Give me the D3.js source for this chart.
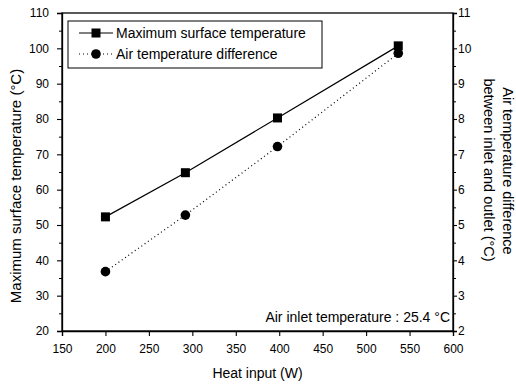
<!DOCTYPE html>
<html>
<head>
<meta charset="utf-8">
<script src="https://cdn.jsdelivr.net/npm/d3@7"></script>
<style>
  body { margin: 0; background: #fff; }
  text { font-family: "Liberation Sans", Arial, sans-serif; fill: #000; }
</style>
</head>
<body>
<svg id="chart" width="516" height="385"></svg>
<script>
const heatInput = [200, 292, 398, 537];
const maxSurfaceTemp = [52.3, 64.8, 80.3, 100.7];
const airTempDiff = [3.68, 5.28, 7.22, 9.86];
const xTicks = [150, 200, 250, 300, 350, 400, 450, 500, 550, 600];
const yLeftTicks = [20, 30, 40, 50, 60, 70, 80, 90, 100, 110];
const yRightTicks = [2, 3, 4, 5, 6, 7, 8, 9, 10, 11];
const seriesNames = ["Maximum surface temperature", "Air temperature difference"];

const svg = d3.select("#chart");
const L = 62, R = 453, T = 13, B = 331;

const x = d3.scaleLinear().domain([150, 600]).range([L, R]);
const yL = d3.scaleLinear().domain([20, 110]).range([B, T]);
const yR = d3.scaleLinear().domain([2, 11]).range([B, T]);

// frame
svg.append("rect").attr("x", L).attr("y", T).attr("width", R - L).attr("height", B - T)
  .attr("fill", "none").attr("stroke", "#000").attr("stroke-width", 1.3);

// axes
const fs = "12px";
const xAxis = svg.append("g").attr("transform", `translate(0,${B})`)
  .call(d3.axisBottom(x).tickValues(xTicks).tickSize(5).tickPadding(8));
const yLAxis = svg.append("g").attr("transform", `translate(${L},0)`)
  .call(d3.axisLeft(yL).tickValues(yLeftTicks).tickSize(5).tickPadding(8));
const yRAxis = svg.append("g").attr("transform", `translate(${R},0)`)
  .call(d3.axisRight(yR).tickValues(yRightTicks).tickSize(4).tickPadding(1));
[xAxis, yLAxis, yRAxis].forEach(g => {
  g.select(".domain").attr("stroke-width", 1.3);
  g.selectAll(".tick line").attr("stroke-width", 1.1);
  g.selectAll(".tick text").style("font-size", fs).attr("font-family", "Liberation Sans, Arial, sans-serif");
});

// minor ticks
const minorL = d3.range(25, 110, 10);
svg.append("g").attr("transform", `translate(${L},0)`)
  .call(d3.axisLeft(yL).tickValues(minorL).tickSize(3).tickFormat(""))
  .call(g => g.select(".domain").remove());
const minorR = d3.range(2.5, 11, 1);
svg.append("g").attr("transform", `translate(${R},0)`)
  .call(d3.axisRight(yR).tickValues(minorR).tickSize(3).tickFormat(""))
  .call(g => g.select(".domain").remove());

// lines
const data = heatInput.map((h, i) => ({h, t: maxSurfaceTemp[i], d: airTempDiff[i]}));
svg.append("path").datum(data)
  .attr("d", d3.line().x(p => x(p.h)).y(p => yL(p.t)))
  .attr("fill", "none").attr("stroke", "#000").attr("stroke-width", 1.2);
svg.append("path").datum(data)
  .attr("d", d3.line().x(p => x(p.h)).y(p => yR(p.d)))
  .attr("fill", "none").attr("stroke", "#000").attr("stroke-width", 1.2)
  .attr("stroke-dasharray", "1,3");

const sq = 9;
svg.selectAll(".sq").data(data).enter().append("rect")
  .attr("x", p => x(p.h) - sq / 2).attr("y", p => yL(p.t) - sq / 2)
  .attr("width", sq).attr("height", sq).attr("fill", "#000");
svg.selectAll(".ci").data(data).enter().append("circle")
  .attr("cx", p => x(p.h)).attr("cy", p => yR(p.d)).attr("r", 4.8).attr("fill", "#000");

// legend
const lg = svg.append("g");
lg.append("rect").attr("x", 68).attr("y", 21).attr("width", 254).attr("height", 47)
  .attr("fill", "#fff").attr("stroke", "#000").attr("stroke-width", 1);
const ly = [33, 54];
lg.append("line").attr("x1", 79).attr("x2", 113).attr("y1", ly[0]).attr("y2", ly[0])
  .attr("stroke", "#000").attr("stroke-width", 1.2);
lg.append("rect").attr("x", 96 - sq / 2).attr("y", ly[0] - sq / 2).attr("width", sq).attr("height", sq).attr("fill", "#000");
lg.append("line").attr("x1", 79).attr("x2", 113).attr("y1", ly[1]).attr("y2", ly[1])
  .attr("stroke", "#000").attr("stroke-width", 1.2).attr("stroke-dasharray", "1,3");
lg.append("circle").attr("cx", 96).attr("cy", ly[1]).attr("r", 4.8).attr("fill", "#000");
seriesNames.forEach((n, i) => {
  lg.append("text").attr("x", 116).attr("y", ly[i] + 5).style("font-size", "14px").text(n);
});

// annotation
svg.append("text").attr("x", 450).attr("y", 322).attr("text-anchor", "end")
  .style("font-size", "14px").text("Air inlet temperature : 25.4 °C");

// axis titles
svg.append("text").attr("x", (L + R) / 2).attr("y", 378).attr("text-anchor", "middle")
  .style("font-size", "14px").text("Heat input (W)");
svg.append("text").attr("transform", "translate(21,186) rotate(-90)").attr("text-anchor", "middle")
  .style("font-size", "15px").text("Maximum surface temperature (°C)");
svg.append("text").attr("transform", "translate(503,171) rotate(90)").attr("text-anchor", "middle")
  .style("font-size", "14.5px").text("Air temperature difference");
svg.append("text").attr("transform", "translate(484,170) rotate(90)").attr("text-anchor", "middle")
  .style("font-size", "14.5px").text("between inlet and outlet (°C)");
</script>
</body>
</html>
